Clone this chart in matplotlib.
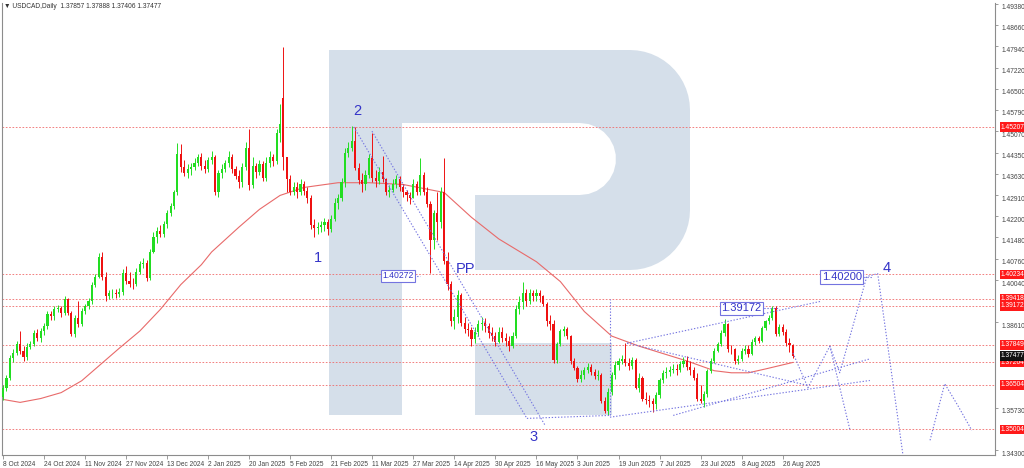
import matplotlib
matplotlib.use("Agg")
import matplotlib.pyplot as plt
from matplotlib.patches import Polygon, Rectangle
from matplotlib.transforms import ScaledTranslation
import numpy as np

# ---- daily candles USDCAD, 8 Oct 2024 .. 29 Aug 2025 (one row = 12 bars) ----
closes = [
    1.3641, 1.3674, 1.3741, 1.3758, 1.3788, 1.3765, 1.3744, 1.3778, 1.3788, 1.3825, 1.3808, 1.3832,
    1.3848, 1.3888, 1.3882, 1.3905, 1.3909, 1.3893, 1.3939, 1.3892, 1.3822, 1.3875, 1.3855, 1.3898,
    1.3915, 1.3932, 1.3989, 1.4016, 1.4083, 1.4016, 1.3949, 1.3960, 1.3962, 1.3958, 1.3965, 1.4029,
    1.4002, 1.3992, 1.3990, 1.4032, 1.4059, 1.4062, 1.4010, 1.4100, 1.4150, 1.4170, 1.4160, 1.4195,
    1.4230, 1.4255, 1.4300, 1.4430, 1.4385, 1.4365, 1.4380, 1.4385, 1.4400, 1.4420, 1.4390, 1.4380,
    1.4410, 1.4420, 1.4300, 1.4365, 1.4380, 1.4400, 1.4420, 1.4380, 1.4355, 1.4335, 1.4385, 1.4450,
    1.4325, 1.4390, 1.4370, 1.4395, 1.4350, 1.4400, 1.4420, 1.4405, 1.4500, 1.4530, 1.4420, 1.4345,
    1.4300, 1.4320, 1.4300, 1.4330, 1.4305, 1.4280, 1.4190, 1.4180, 1.4185, 1.4190, 1.4200, 1.4175,
    1.4210, 1.4265, 1.4280, 1.4335, 1.4434, 1.4450, 1.4474, 1.4384, 1.4343, 1.4330, 1.4360, 1.4417,
    1.4350, 1.4340, 1.4370, 1.4345, 1.4300, 1.4310, 1.4330, 1.4345, 1.4320, 1.4300, 1.4290, 1.4280,
    1.4330, 1.4300, 1.4360, 1.4300, 1.4260, 1.4140, 1.4230, 1.4200, 1.4300, 1.4070, 1.3990, 1.3865,
    1.3880, 1.3955, 1.3860, 1.3840, 1.3835, 1.3805, 1.3830, 1.3855, 1.3860, 1.3850, 1.3825, 1.3815,
    1.3795, 1.3830, 1.3810, 1.3800, 1.3780, 1.3815, 1.3905, 1.3930, 1.3960, 1.3935, 1.3960, 1.3950,
    1.3960, 1.3950, 1.3925, 1.3865, 1.3855, 1.3735, 1.3787, 1.3832, 1.3840, 1.3815, 1.3731, 1.3708,
    1.3671, 1.3685, 1.3700, 1.3712, 1.3695, 1.3680, 1.3685, 1.3597, 1.3563, 1.3625, 1.3684, 1.3718,
    1.3731, 1.3738, 1.3725, 1.3715, 1.3735, 1.3641, 1.3675, 1.3604, 1.3598, 1.3595, 1.3585, 1.3615,
    1.3667, 1.3690, 1.3695, 1.3700, 1.3705, 1.3700, 1.3720, 1.3731, 1.3710, 1.3700, 1.3675, 1.3604,
    1.3597, 1.3620, 1.3698, 1.3731, 1.3765, 1.3788, 1.3825, 1.3855, 1.3772, 1.3770, 1.3731, 1.3738,
    1.3765, 1.3772, 1.3755, 1.3795, 1.3808, 1.3800, 1.3842, 1.3865, 1.3875, 1.3909, 1.3822, 1.3845,
    1.3830, 1.3790, 1.37857, 1.37477,
]
highs = [
    1.3650, 1.3685, 1.3750, 1.3770, 1.3800, 1.3832, 1.3780, 1.3790, 1.3800, 1.3835, 1.3838, 1.3842,
    1.3860, 1.3900, 1.3900, 1.3915, 1.3920, 1.3915, 1.3950, 1.3945, 1.3900, 1.3885, 1.3935, 1.3910,
    1.3925, 1.3945, 1.3998, 1.4025, 1.4095, 1.4100, 1.4030, 1.3972, 1.3975, 1.3975, 1.3978, 1.4040,
    1.4050, 1.4030, 1.4010, 1.4045, 1.4070, 1.4078, 1.4072, 1.4110, 1.4165, 1.4185, 1.4190, 1.4205,
    1.4240, 1.4265, 1.4310, 1.4467, 1.4465, 1.4410, 1.4395, 1.4400, 1.4415, 1.4430, 1.4435, 1.4410,
    1.4420, 1.4440, 1.4425, 1.4375, 1.4395, 1.4410, 1.4440, 1.4430, 1.4390, 1.4375, 1.4400, 1.4470,
    1.4515, 1.4420, 1.4400, 1.4410, 1.4405, 1.4420, 1.4440, 1.4430, 1.4515, 1.4600, 1.4793, 1.4420,
    1.4360, 1.4335, 1.4335, 1.4345, 1.4340, 1.4320, 1.4290, 1.4210, 1.4200, 1.4205, 1.4215, 1.4210,
    1.4225, 1.4280, 1.4295, 1.4350, 1.4450, 1.4470, 1.4524, 1.4521, 1.4400, 1.4365, 1.4375, 1.4430,
    1.4501, 1.4375, 1.4385, 1.4424, 1.4350, 1.4325, 1.4345, 1.4360, 1.4355, 1.4330, 1.4310, 1.4300,
    1.4345, 1.4340, 1.4417, 1.4370, 1.4320, 1.4270, 1.4240, 1.4300, 1.4320, 1.4415, 1.4100, 1.4000,
    1.3905, 1.3970, 1.3960, 1.3880, 1.3860, 1.3845, 1.3845, 1.3870, 1.3880, 1.3875, 1.3860, 1.3845,
    1.3830, 1.3845, 1.3845, 1.3825, 1.3815, 1.3830, 1.3920, 1.3950, 1.3999, 1.3975, 1.3975, 1.3970,
    1.3975, 1.3970, 1.3955, 1.3930, 1.3885, 1.3870, 1.3795, 1.3840, 1.3850, 1.3845, 1.3820, 1.3740,
    1.3715, 1.3700, 1.3712, 1.3725, 1.3720, 1.3705, 1.3700, 1.3690, 1.3610, 1.3640, 1.3695, 1.3730,
    1.3740, 1.3750, 1.3791, 1.3740, 1.3745, 1.3740, 1.3690, 1.3680, 1.3625, 1.3615, 1.3605, 1.3625,
    1.3675, 1.3700, 1.3710, 1.3715, 1.3720, 1.3720, 1.3730, 1.3745, 1.3748, 1.3730, 1.3710, 1.3690,
    1.3650, 1.3630, 1.3705, 1.3740, 1.3775, 1.3795, 1.3835, 1.3872, 1.3860, 1.3785, 1.3775, 1.3750,
    1.3775, 1.3785, 1.3785, 1.3805, 1.3815, 1.3815, 1.3850, 1.3870, 1.3885, 1.3915, 1.3917, 1.3855,
    1.3855, 1.3840, 1.3810, 1.37888,
]
lows = [
    1.3598, 1.3630, 1.3665, 1.3728, 1.3750, 1.3755, 1.3730, 1.3735, 1.3770, 1.3780, 1.3798, 1.3795,
    1.3820, 1.3840, 1.3870, 1.3870, 1.3895, 1.3880, 1.3885, 1.3885, 1.3815, 1.3812, 1.3845, 1.3850,
    1.3890, 1.3905, 1.3925, 1.3980, 1.4010, 1.4005, 1.3935, 1.3940, 1.3945, 1.3945, 1.3948, 1.3955,
    1.3990, 1.3980, 1.3975, 1.3985, 1.4025, 1.4045, 1.4000, 1.4005, 1.4095, 1.4130, 1.4148, 1.4150,
    1.4180, 1.4220, 1.4245, 1.4290, 1.4370, 1.4355, 1.4350, 1.4360, 1.4375, 1.4390, 1.4375, 1.4365,
    1.4370, 1.4395, 1.4290, 1.4285, 1.4350, 1.4370, 1.4385, 1.4365, 1.4345, 1.4315, 1.4320, 1.4375,
    1.4310, 1.4315, 1.4350, 1.4360, 1.4340, 1.4340, 1.4385, 1.4390, 1.4395, 1.4470, 1.4375, 1.4300,
    1.4290, 1.4290, 1.4280, 1.4290, 1.4290, 1.4265, 1.4175, 1.4149, 1.4160, 1.4165, 1.4170, 1.4155,
    1.4165, 1.4205, 1.4245, 1.4270, 1.4320, 1.4420, 1.4440, 1.4375, 1.4330, 1.4300, 1.4310, 1.4350,
    1.4335, 1.4320, 1.4330, 1.4335, 1.4290, 1.4285, 1.4300, 1.4315, 1.4305, 1.4285, 1.4270, 1.4260,
    1.4280, 1.4290, 1.4290, 1.4290, 1.4250, 1.4027, 1.4110, 1.4140, 1.4180, 1.4060, 1.3970, 1.3850,
    1.3840, 1.3860, 1.3850, 1.3825, 1.3815, 1.3780, 1.3790, 1.3815, 1.3835, 1.3830, 1.3810, 1.3800,
    1.3780, 1.3790, 1.3795, 1.3780, 1.3765, 1.3775, 1.3810, 1.3890, 1.3905, 1.3915, 1.3925, 1.3935,
    1.3935, 1.3930, 1.3915, 1.3850, 1.3835, 1.3725, 1.3725, 1.3780, 1.3815, 1.3805, 1.3720, 1.3700,
    1.3660, 1.3660, 1.3670, 1.3690, 1.3685, 1.3670, 1.3665, 1.3590, 1.3555, 1.3547, 1.3615, 1.3670,
    1.3700, 1.3720, 1.3715, 1.3700, 1.3705, 1.3635, 1.3625, 1.3595, 1.3585, 1.3575, 1.3557, 1.3570,
    1.3605, 1.3655, 1.3675, 1.3680, 1.3690, 1.3685, 1.3695, 1.3712, 1.3700, 1.3685, 1.3665, 1.3595,
    1.3590, 1.3574, 1.3610, 1.3690, 1.3725, 1.3760, 1.3780, 1.3815, 1.3760, 1.3755, 1.3720, 1.3720,
    1.3730, 1.3755, 1.3745, 1.3750, 1.3785, 1.3790, 1.3795, 1.3835, 1.3855, 1.3870, 1.3815, 1.3815,
    1.3820, 1.3780, 1.3760, 1.37406,
]
first_open = 1.3608
gap_opens = {82: 1.4620}   # 3 Feb 2025 opened with a gap

date_labels = ["8 Oct 2024", "24 Oct 2024", "11 Nov 2024", "27 Nov 2024", "13 Dec 2024",
               "2 Jan 2025", "20 Jan 2025", "5 Feb 2025", "21 Feb 2025", "11 Mar 2025",
               "27 Mar 2025", "14 Apr 2025", "30 Apr 2025", "16 May 2025", "3 Jun 2025",
               "19 Jun 2025", "7 Jul 2025", "23 Jul 2025", "8 Aug 2025", "26 Aug 2025"]

# moving average (red curve)
ma_bars = [0, 5, 11, 17, 23, 28, 34, 40, 46, 52, 58, 61, 69, 75, 81, 88, 98, 107, 117, 129,
           137, 145, 156, 163, 170, 178, 186, 200, 208, 213, 218, 223, 231]
ma_values = [1.3601, 1.3591, 1.3604, 1.3624, 1.3664, 1.3714, 1.3774, 1.3832, 1.3905, 1.3989,
             1.4056, 1.4099, 1.4183, 1.4243, 1.4290, 1.4317, 1.4333, 1.4333, 1.4327, 1.4300,
             1.4216, 1.4143, 1.4066, 1.3999, 1.3898, 1.3815, 1.3781, 1.3731, 1.3698, 1.3691,
             1.3691, 1.3704, 1.3726]

price_ticks = [1.49380, 1.48660, 1.47940, 1.47220, 1.46500, 1.45790, 1.45070, 1.44350,
               1.43630, 1.42910, 1.42200, 1.41480, 1.40760, 1.40040, 1.38610, 1.35730, 1.34300]
level_lines = [1.45207, 1.40234, 1.39418, 1.39172, 1.37849, 1.37264, 1.36504, 1.35004]
last_price = 1.37477

# wave marks and forecast drawing (bar index, price)
wave_labels = [("2", 103.5, 1.4574), ("1", 92.0, 1.4079), ("3", 155.0, 1.3474),
               ("4", 258.5, 1.4046), ("PP", 135.2, 1.4042)]
price_boxes = [("1.40272", 115.4, 1.4018, 122.0, 6.2), ("1.39172", 216.0, 1.3909, 226.5, 8),
               ("1.40200", 245.3, 1.4015, 254.0, 8)]
dotted_paths = [
    [(102.6, 1.4521), (153.2, 1.3537)],
    [(107.9, 1.4507), (158.5, 1.3514)],
    [(153.2, 1.3537), (177.5, 1.3547)],
    [(177.5, 1.3547), (177.5, 1.3939)],
    [(177.5, 1.3541), (253.5, 1.3665)],
    [(196.0, 1.3547), (253.5, 1.3738)],
    [(182.5, 1.3791), (239.0, 1.3932)],
    [(182.5, 1.3791), (235.5, 1.3648)],
    [(231.0, 1.3758), (235.4, 1.3641), (241.8, 1.3781), (244.7, 1.3691),
     (252.6, 1.4016), (255.8, 1.4026), (263.7, 1.3370)],
    [(241.8, 1.3781), (247.7, 1.3497)],
    [(271.1, 1.3463), (275.4, 1.3654), (279.2, 1.3581), (283.3, 1.3497)],
]

W, H = 1024, 468
fig = plt.figure(figsize=(W / 100, H / 100), dpi=100)
ax = fig.add_axes([2 / W, 13 / H, 993 / W, 452 / H])
font = ["Liberation Sans", "DejaVu Sans"]


def px(x, y):
    # pixel position of the screenshot -> figure fraction (watermark only)
    return (x / W, 1 - y / H)


def arc(cx, cy, r, a0, a1, n=14):
    a = np.radians(np.linspace(a0, a1, n))
    return [(cx + r * np.cos(t), cy + r * np.sin(t)) for t in a]


# faint "R" watermark
wm = "#d5dfea"
bowl = ([(402, 50), (630, 50)] + arc(630, 110, 60, -90, 0) + [(690, 210)]
        + arc(630, 210, 60, 0, 90) + [(475, 270), (475, 195), (580, 195)]
        + arc(580, 159, 36, 90, -90) + [(402, 123)])
ax.add_patch(Polygon([px(*p) for p in bowl], closed=True, fc=wm, ec="none",
                     transform=fig.transFigure, zorder=0))
for x0, y0, x1, y1 in [(329, 50, 402, 415), (475, 343, 612, 415)]:
    ax.add_patch(Rectangle(px(x0, y1), (x1 - x0) / W, (y1 - y0) / H, fc=wm, ec="none",
                           transform=fig.transFigure, zorder=0))

# candles
n = len(closes)
idx = np.arange(n)
opens = [first_open] + closes[:-1]
for k, v in gap_opens.items():
    opens[k] = v
opens = np.array(opens)
c = np.array(closes)
up = c >= opens
col = np.where(up, "#22dd22", "#ee1111")
ax.vlines(idx, lows, highs, colors=col, lw=0.7, zorder=3)
body = np.where(np.abs(c - opens) < 0.00012, 0.00012, c - opens)
ax.bar(idx, body, bottom=opens, width=0.62, color=col, lw=0, zorder=4)

# moving average
ax.plot(ma_bars, ma_values, color="#e86a6a", lw=0.8, zorder=2)

# horizontal levels and price tags on the scale
for v in level_lines:
    ax.axhline(v, color="#f06a6a", lw=0.6, ls=(0, (2, 2)), zorder=1)
    ax.text(1.006, v, f"{v:.5f}", transform=ax.get_yaxis_transform(), fontsize=4.8,
            family=font, color="white", va="center", ha="left", clip_on=False,
            bbox=dict(boxstyle="square,pad=0.18", fc="#ff1a1a", ec="none"), zorder=10)
ax.text(1.006, last_price, f"{last_price:.5f}", transform=ax.get_yaxis_transform(),
        fontsize=4.8, family=font, color="white", va="center", ha="left", clip_on=False,
        bbox=dict(boxstyle="square,pad=0.18", fc="#111111", ec="none"), zorder=11)

# forecast / wave drawing
for path in dotted_paths:
    xs, ys = zip(*path)
    ax.plot(xs, ys, color="#7474e0", lw=0.8, ls=(0, (1.2, 1.6)), zorder=5)
for txt, bx, by in wave_labels:
    ax.text(bx, by, txt, fontsize=10.5, family=font, color="#3434c8", ha="center",
            va="center", zorder=6)
for txt, bx, by, tx, fs in price_boxes:
    ax.plot([bx, tx], [by, by], color="#7474e0", lw=0.8, ls=(0, (1.2, 1.6)), zorder=5)
    ax.text(bx, by, txt, fontsize=fs, family=font, color="#3434c8", ha="center", va="center",
            zorder=7, bbox=dict(boxstyle="square,pad=0.15", fc="white", ec="#7474e0", lw=0.8))

# axes styling
ax.set_xlim(-0.3, 290.1)
ax.set_ylim(1.34133, 1.4940)
ax.set_facecolor("white")
for s in ["left", "right", "bottom"]:
    ax.spines[s].set_color("#8c8c8c")
    ax.spines[s].set_linewidth(0.8)
ax.spines["top"].set_visible(False)

ax.yaxis.tick_right()
ax.set_yticks(price_ticks)
ax.set_yticklabels([f"{v:.5f}" for v in price_ticks])
ax.tick_params(axis="y", length=2.5, width=0.6, color="#8c8c8c", pad=2,
               labelsize=4.8, labelcolor="#444444")
off = ScaledTranslation(0, -3 / 100, fig.dpi_scale_trans)
for lab in ax.get_yticklabels():
    lab.set_fontfamily(font)
    lab.set_transform(lab.get_transform() + off)

ax.set_xticks(range(0, 12 * len(date_labels), 12))
ax.set_xticklabels(date_labels)
ax.tick_params(axis="x", length=3, width=0.6, color="#8c8c8c", pad=1,
               labelsize=4.8, labelcolor="#444444")
for lab in ax.get_xticklabels():
    lab.set_horizontalalignment("left")
    lab.set_fontfamily(font)

fig.text(4 / W, 1 - 7 / H, "\u25bc USDCAD,Daily  1.37857 1.37888 1.37406 1.37477",
         fontsize=4.8, family=font, color="#333333", va="center", ha="left")

fig.savefig("out.png", dpi=100, facecolor="white")
